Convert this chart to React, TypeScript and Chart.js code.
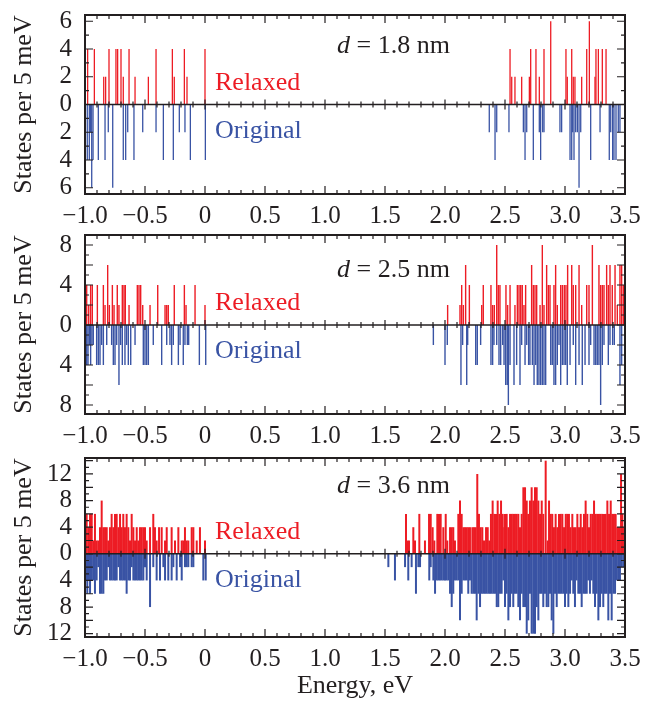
import React, { useEffect, useRef } from 'react';
import { Chart, registerables } from 'chart.js';

Chart.register(...registerables);

const FONT = '"Liberation Serif", "Times New Roman", Times, serif';
const INK = '#231f20';
const RED = 'rgb(237, 28, 36)';
const BLUE = 'rgb(57, 83, 164)';

// ---------------- data ----------------
const seriesNames = ['Relaxed', 'Original'];
const thicknessNm = ['1.8', '2.5', '3.6'];
const energyRange = [-1.0, 3.5];
const xTitle = 'Energy, eV';
const yTitle = 'States per 5 meV';

// [energy (eV), states per 5 meV]
const relaxed18: [number, number][] = [
  [-0.978, 4], [-0.922, 4], [-0.844, 2], [-0.828, 2], [-0.800, 4], [-0.742, 4], [-0.728, 4], [-0.700, 4],
  [-0.681, 2], [-0.633, 4], [-0.583, 2], [-0.472, 2], [-0.408, 4], [-0.272, 4], [-0.256, 2], [-0.172, 4],
  [-0.150, 2], [0.000, 4],
  [2.542, 4], [2.556, 2], [2.583, 2], [2.639, 2], [2.703, 2], [2.714, 4], [2.758, 4], [2.786, 2],
  [2.825, 4], [2.881, 6], [3.008, 4], [3.019, 2], [3.056, 4], [3.069, 2], [3.083, 2], [3.139, 2],
  [3.181, 4], [3.203, 6], [3.250, 2], [3.258, 4], [3.278, 4], [3.311, 4], [3.342, 4], [3.497, 4],
];
const original18: [number, number][] = [
  [-0.981, 4], [-0.964, 4], [-0.953, 2], [-0.944, 6], [-0.933, 4], [-0.889, 4], [-0.833, 4], [-0.806, 2],
  [-0.769, 6], [-0.681, 4], [-0.661, 4], [-0.644, 2], [-0.592, 4], [-0.519, 2], [-0.408, 2], [-0.347, 4],
  [-0.264, 4], [-0.214, 2], [-0.167, 2], [-0.122, 4], [0.003, 4],
  [2.369, 2], [2.417, 4], [2.431, 2], [2.533, 2], [2.653, 2], [2.667, 4], [2.681, 2], [2.736, 4],
  [2.786, 2], [2.797, 4], [2.814, 2], [2.825, 2], [2.958, 2], [2.972, 2], [3.042, 4], [3.056, 4],
  [3.064, 2], [3.075, 4], [3.089, 2], [3.103, 2], [3.117, 6], [3.131, 2], [3.214, 4], [3.292, 2],
  [3.369, 4], [3.381, 2], [3.397, 4], [3.408, 4], [3.425, 4], [3.444, 2], [3.458, 2],
];

const relaxed25: [number, number][] = [
  [-0.986, 4], [-0.969, 2], [-0.953, 4], [-0.939, 4], [-0.897, 4], [-0.847, 4], [-0.833, 2], [-0.811, 6],
  [-0.797, 2], [-0.772, 4], [-0.758, 2], [-0.731, 4], [-0.717, 2], [-0.689, 4], [-0.675, 4], [-0.664, 4],
  [-0.633, 2], [-0.564, 4], [-0.550, 4], [-0.536, 4], [-0.519, 2], [-0.458, 2], [-0.394, 4], [-0.333, 2],
  [-0.319, 2], [-0.306, 2], [-0.256, 4], [-0.172, 4], [-0.158, 2], [-0.083, 4], [0.000, 2],
  [2.022, 2], [2.125, 2], [2.139, 4], [2.153, 2], [2.172, 6], [2.203, 4], [2.306, 2], [2.319, 4],
  [2.383, 4], [2.397, 2], [2.411, 2], [2.431, 8], [2.444, 4], [2.458, 4], [2.508, 4], [2.522, 2],
  [2.542, 4], [2.583, 2], [2.603, 4], [2.617, 4], [2.631, 4], [2.644, 4], [2.658, 2], [2.672, 4],
  [2.722, 6], [2.736, 4], [2.750, 4], [2.764, 4], [2.792, 2], [2.811, 8], [2.825, 2], [2.847, 6],
  [2.861, 4], [2.875, 4], [2.908, 4], [2.922, 6], [2.936, 2], [2.964, 4], [2.978, 4], [2.994, 4],
  [3.008, 4], [3.022, 6], [3.056, 6], [3.069, 4], [3.089, 4], [3.117, 6], [3.139, 2], [3.181, 4],
  [3.200, 4], [3.228, 8], [3.283, 6], [3.297, 4], [3.311, 4], [3.325, 4], [3.347, 6], [3.361, 4],
  [3.375, 6], [3.394, 4], [3.417, 6], [3.436, 2], [3.458, 6], [3.472, 6], [3.486, 4],
];
const original25: [number, number][] = [
  [-0.986, 4], [-0.975, 4], [-0.964, 2], [-0.953, 4], [-0.942, 2], [-0.931, 2], [-0.903, 4], [-0.889, 4],
  [-0.875, 4], [-0.861, 2], [-0.847, 4], [-0.819, 2], [-0.778, 2], [-0.764, 4], [-0.750, 4], [-0.736, 2],
  [-0.717, 6], [-0.703, 2], [-0.689, 4], [-0.667, 4], [-0.653, 2], [-0.639, 4], [-0.619, 4], [-0.583, 2],
  [-0.514, 4], [-0.500, 4], [-0.486, 4], [-0.472, 4], [-0.431, 2], [-0.361, 4], [-0.319, 2], [-0.292, 2],
  [-0.278, 4], [-0.264, 2], [-0.222, 4], [-0.208, 2], [-0.181, 4], [-0.167, 2], [-0.147, 2], [-0.136, 2],
  [-0.047, 4], [0.006, 4],
  [1.903, 2], [2.000, 4], [2.019, 2], [2.133, 6], [2.147, 2], [2.181, 6], [2.189, 2], [2.256, 4],
  [2.269, 4], [2.297, 2], [2.383, 4], [2.397, 4], [2.408, 2], [2.431, 2], [2.450, 4], [2.464, 4],
  [2.481, 2], [2.492, 4], [2.506, 6], [2.519, 6], [2.528, 8], [2.542, 4], [2.575, 6], [2.597, 4],
  [2.625, 6], [2.639, 2], [2.667, 4], [2.681, 2], [2.697, 4], [2.708, 4], [2.728, 4], [2.742, 6],
  [2.756, 4], [2.769, 6], [2.783, 6], [2.797, 6], [2.811, 6], [2.825, 6], [2.839, 6], [2.881, 4],
  [2.894, 4], [2.908, 6], [2.922, 6], [2.936, 4], [2.950, 2], [2.964, 6], [2.978, 4], [2.992, 4],
  [3.006, 4], [3.019, 6], [3.042, 4], [3.069, 2], [3.089, 6], [3.117, 4], [3.144, 6], [3.167, 4],
  [3.200, 4], [3.214, 2], [3.242, 4], [3.256, 4], [3.269, 4], [3.283, 4], [3.297, 8], [3.311, 4],
  [3.325, 2], [3.361, 4], [3.375, 2], [3.397, 2], [3.411, 2], [3.458, 6], [3.472, 4],
];

const relaxed36: [number, number][] = [
  [-0.986, 6], [-0.972, 4], [-0.958, 6], [-0.944, 6], [-0.931, 2], [-0.917, 6], [-0.903, 2], [-0.889, 2],
  [-0.875, 4], [-0.861, 8], [-0.847, 4], [-0.833, 4], [-0.819, 4], [-0.806, 2], [-0.792, 4], [-0.778, 6],
  [-0.764, 4], [-0.750, 6], [-0.736, 6], [-0.722, 4], [-0.708, 6], [-0.694, 4], [-0.681, 6], [-0.667, 4],
  [-0.653, 6], [-0.639, 4], [-0.625, 2], [-0.611, 6], [-0.597, 4], [-0.583, 2], [-0.569, 4], [-0.556, 2],
  [-0.542, 4], [-0.528, 4], [-0.514, 4], [-0.500, 4], [-0.486, 2], [-0.458, 4], [-0.431, 6], [-0.417, 4],
  [-0.403, 2], [-0.383, 4], [-0.361, 4], [-0.333, 2], [-0.319, 4], [-0.278, 4], [-0.250, 2], [-0.222, 4],
  [-0.194, 2], [-0.181, 2], [-0.167, 4], [-0.153, 2], [-0.139, 2], [-0.111, 4], [-0.097, 4], [-0.069, 2],
  [-0.042, 4], [0.000, 2],
  [1.675, 6], [1.686, 2], [1.700, 2], [1.736, 4], [1.750, 2], [1.786, 6], [1.833, 2], [1.867, 6],
  [1.881, 6], [1.897, 4], [1.911, 2], [1.936, 6], [1.950, 6], [1.964, 6], [1.986, 4], [2.006, 6],
  [2.019, 2], [2.042, 4], [2.056, 4], [2.069, 4], [2.083, 2], [2.111, 6], [2.125, 8], [2.139, 6],
  [2.153, 4], [2.167, 4], [2.181, 4], [2.194, 4], [2.208, 4], [2.228, 4], [2.242, 4], [2.256, 4],
  [2.269, 12], [2.283, 6], [2.297, 4], [2.311, 4], [2.325, 2], [2.342, 4], [2.356, 4], [2.369, 2],
  [2.383, 6], [2.397, 8], [2.411, 6], [2.425, 6], [2.439, 8], [2.453, 6], [2.467, 8], [2.481, 6],
  [2.494, 4],
  [2.500, 6], [2.514, 6], [2.528, 4], [2.542, 6], [2.556, 6], [2.569, 6], [2.583, 6], [2.597, 6],
  [2.611, 6], [2.625, 4], [2.639, 6], [2.653, 10], [2.667, 10], [2.681, 8], [2.694, 6], [2.708, 8],
  [2.722, 10], [2.736, 8], [2.750, 10], [2.764, 10], [2.778, 8], [2.792, 6], [2.806, 8], [2.819, 6],
  [2.839, 14], [2.856, 2], [2.867, 8], [2.881, 6], [2.894, 6], [2.908, 4], [2.922, 6], [2.936, 4],
  [2.950, 6], [2.964, 6], [2.978, 6], [2.992, 4], [3.006, 6], [3.019, 6], [3.033, 6], [3.047, 4],
  [3.061, 6], [3.075, 4], [3.089, 4], [3.103, 6], [3.117, 4], [3.131, 6], [3.144, 4], [3.158, 6],
  [3.172, 8], [3.186, 6], [3.200, 4], [3.214, 6], [3.228, 6], [3.242, 8], [3.256, 6], [3.269, 6],
  [3.283, 6], [3.297, 6], [3.311, 6], [3.325, 6], [3.339, 6], [3.353, 8], [3.367, 6], [3.381, 8],
  [3.394, 6], [3.408, 6], [3.422, 6], [3.436, 4], [3.450, 4], [3.467, 12], [3.478, 6], [3.492, 4],
];
const original36: [number, number][] = [
  [-0.992, 4], [-0.981, 6], [-0.969, 4], [-0.958, 6], [-0.944, 4], [-0.931, 4], [-0.917, 6], [-0.903, 4],
  [-0.889, 2], [-0.875, 6], [-0.861, 6], [-0.847, 6], [-0.833, 4], [-0.819, 4], [-0.806, 2], [-0.792, 4],
  [-0.778, 4], [-0.764, 4], [-0.750, 4], [-0.736, 4], [-0.722, 2], [-0.708, 4], [-0.694, 4], [-0.681, 4],
  [-0.667, 4], [-0.653, 6], [-0.639, 4], [-0.625, 4], [-0.611, 2], [-0.597, 4], [-0.583, 4], [-0.569, 4],
  [-0.556, 4], [-0.542, 4], [-0.528, 4], [-0.514, 4], [-0.500, 2], [-0.486, 4], [-0.458, 8], [-0.431, 2],
  [-0.403, 4], [-0.375, 4], [-0.347, 2], [-0.333, 4], [-0.306, 4], [-0.278, 4], [-0.264, 2], [-0.236, 4],
  [-0.208, 2], [-0.194, 4], [-0.167, 2], [-0.153, 2], [-0.139, 2], [-0.111, 2], [-0.097, 2], [-0.014, 4],
  [0.006, 4],
  [1.528, 2], [1.583, 4], [1.667, 2], [1.694, 4], [1.722, 2], [1.758, 6], [1.778, 2], [1.792, 2],
  [1.869, 4], [1.881, 2], [1.903, 4], [1.917, 6], [1.931, 4], [1.944, 4], [1.958, 4], [1.972, 4],
  [1.986, 4], [2.000, 4], [2.014, 4], [2.028, 4], [2.042, 6], [2.056, 8], [2.069, 6], [2.083, 4],
  [2.097, 4], [2.111, 4], [2.125, 10], [2.139, 6], [2.153, 4], [2.167, 4], [2.181, 4], [2.194, 6],
  [2.208, 4], [2.222, 6], [2.236, 6], [2.250, 6], [2.264, 10], [2.278, 6], [2.292, 8], [2.306, 6],
  [2.319, 6], [2.333, 6], [2.347, 6], [2.361, 6], [2.375, 6], [2.389, 6], [2.403, 6], [2.417, 6],
  [2.431, 8], [2.444, 8], [2.458, 6], [2.472, 6], [2.486, 4],
  [2.500, 8], [2.514, 6], [2.528, 10], [2.542, 8], [2.556, 6], [2.569, 8], [2.583, 6], [2.597, 6],
  [2.611, 8], [2.625, 10], [2.639, 6], [2.653, 8], [2.667, 8], [2.681, 12], [2.694, 10], [2.708, 6],
  [2.722, 12], [2.736, 12], [2.750, 12], [2.764, 8], [2.778, 10], [2.792, 6], [2.806, 6], [2.819, 8],
  [2.833, 6], [2.847, 8], [2.861, 8], [2.875, 6], [2.889, 10], [2.903, 12], [2.917, 6], [2.931, 8],
  [2.944, 6], [2.958, 6], [2.972, 6], [2.986, 6], [3.000, 8], [3.014, 6], [3.028, 8], [3.042, 6],
  [3.056, 4], [3.069, 6], [3.083, 8], [3.097, 4], [3.111, 6], [3.125, 6], [3.139, 8], [3.153, 6],
  [3.167, 6], [3.181, 6], [3.194, 4], [3.208, 6], [3.222, 4], [3.236, 6], [3.250, 8], [3.264, 6],
  [3.278, 10], [3.292, 8], [3.306, 6], [3.319, 8], [3.333, 6], [3.347, 6], [3.361, 10], [3.375, 6],
  [3.389, 10], [3.403, 6], [3.417, 6], [3.431, 4], [3.444, 4], [3.458, 4], [3.472, 2], [3.486, 2],
];

// y-axis ranges and label step for each panel
const yRange18 = [-6.45, 6.45];
const yRange25 = [-8.9, 9.0];
const yRange36 = [-12.5, 14.4];
const yLabelSteps = [2, 4, 4];

// ---------------- layout ----------------
type PanelCfg = {
  relaxed: [number, number][];
  original: [number, number][];
  yRange: number[];
  labelStep: number;
  d: string;
  top: number;
  height: number;
  padTop: number;
  xAxisH: number;
  showXTitle: boolean;
  barW: number;
  dOffset: number;
};

const panels: PanelCfg[] = [
  { relaxed: relaxed18, original: original18, yRange: yRange18, labelStep: yLabelSteps[0], d: thicknessNm[0],
    top: 0, height: 228, padTop: 15, xAxisH: 34, showXTitle: false, barW: 1.3, dOffset: 38 },
  { relaxed: relaxed25, original: original25, yRange: yRange25, labelStep: yLabelSteps[1], d: thicknessNm[1],
    top: 228, height: 222, padTop: 7, xAxisH: 36, showXTitle: false, barW: 1.4, dOffset: 42 },
  { relaxed: relaxed36, original: original36, yRange: yRange36, labelStep: yLabelSteps[2], d: thicknessNm[2],
    top: 450, height: 252, padTop: 8, xAxisH: 65, showXTitle: true, barW: 2.0, dOffset: 35 },
];

const near = (v: number, step: number) => Math.abs(v / step - Math.round(v / step)) < 1e-6;

const fmtX = (v: number) => {
  if (!near(v, 0.5)) return '';
  if (Math.abs(v) < 1e-9) return '0';
  return (v < 0 ? '\u2212' : '') + Math.abs(v).toFixed(1);
};

const frameTicks = {
  id: 'frameTicks',
  afterDatasetsDraw(chart: any, _args: any, opts: any) {
    const { ctx, chartArea: a, scales } = chart;
    const x = scales.x;
    const y = scales.y;
    const y0 = y.getPixelForValue(0);
    ctx.save();
    ctx.strokeStyle = INK;
    ctx.lineWidth = 1.5;
    ctx.beginPath();
    ctx.moveTo(a.left, y0);
    ctx.lineTo(a.right, y0);
    ctx.stroke();

    ctx.lineWidth = 1.2;
    ctx.beginPath();
    for (const t of x.ticks) {
      const px = x.getPixelForValue(t.value);
      const major = near(t.value, 0.5);
      const L = major ? 8 : 4;
      const Z = major ? 5 : 3;
      ctx.moveTo(px, a.bottom);
      ctx.lineTo(px, a.bottom - L);
      ctx.moveTo(px, a.top);
      ctx.lineTo(px, a.top + L);
      ctx.moveTo(px, y0 - Z);
      ctx.lineTo(px, y0 + Z);
    }
    for (const t of y.ticks) {
      const py = y.getPixelForValue(t.value);
      const L = near(t.value, 2) ? 8 : 4;
      ctx.moveTo(a.left, py);
      ctx.lineTo(a.left + L, py);
      ctx.moveTo(a.right, py);
      ctx.lineTo(a.right - L, py);
    }
    ctx.stroke();

    ctx.lineWidth = 2;
    ctx.strokeRect(a.left, a.top, a.right - a.left, a.bottom - a.top);

    ctx.textAlign = 'left';
    ctx.textBaseline = 'alphabetic';
    ctx.font = `26px ${FONT}`;
    ctx.fillStyle = RED;
    ctx.fillText(seriesNames[0], a.left + 130, y0 - 15);
    ctx.fillStyle = BLUE;
    ctx.fillText(seriesNames[1], a.left + 130, y0 + 33);

    ctx.fillStyle = INK;
    const dx = a.left + 252;
    const dy = a.top + opts.dOffset;
    ctx.font = `italic 26px ${FONT}`;
    ctx.fillText('d', dx, dy);
    const w = ctx.measureText('d').width;
    ctx.font = `26px ${FONT}`;
    ctx.fillText(` = ${opts.d} nm`, dx + w, dy);
    ctx.restore();
  },
};

function zeroPad(s: any) {
  s.paddingLeft = 0;
  s.paddingRight = 0;
  s.paddingTop = 0;
  s.paddingBottom = 0;
}

function buildConfig(p: PanelCfg): any {
  const common = { borderWidth: 0, inflateAmount: 0, barThickness: p.barW, categoryPercentage: 1, barPercentage: 1 };
  return {
    type: 'bar',
    data: {
      datasets: [
        { label: seriesNames[0], data: p.relaxed.map(([e, n]) => ({ x: e, y: n })), backgroundColor: RED, ...common },
        { label: seriesNames[1], data: p.original.map(([e, n]) => ({ x: e, y: -n })), backgroundColor: BLUE, ...common },
      ],
    },
    options: {
      responsive: false,
      animation: false,
      devicePixelRatio: 1,
      events: [],
      layout: { padding: { left: 0, right: 30, top: p.padTop, bottom: 0 } },
      plugins: {
        legend: { display: false },
        tooltip: { enabled: false },
        frameTicks: { d: p.d, dOffset: p.dOffset },
      },
      scales: {
        x: {
          type: 'linear',
          stacked: true,
          min: energyRange[0],
          max: energyRange[1],
          offset: false,
          grid: { display: false, drawTicks: false },
          border: { display: false },
          ticks: {
            stepSize: 0.1,
            autoSkip: false,
            maxRotation: 0,
            minRotation: 0,
            maxTicksLimit: 1000,
            includeBounds: true,
            padding: 7,
            color: INK,
            font: { family: FONT, size: 25 },
            callback: (v: any) => fmtX(Number(v)),
          },
          title: {
            display: p.showXTitle,
            text: xTitle,
            color: INK,
            font: { family: FONT, size: 26 },
            padding: { top: 0, bottom: 0 },
          },
          afterFit: (s: any) => {
            s.height = p.xAxisH;
            zeroPad(s);
          },
        },
        y: {
          type: 'linear',
          stacked: true,
          min: p.yRange[0],
          max: p.yRange[1],
          grid: { display: false, drawTicks: false },
          border: { display: false },
          ticks: {
            stepSize: 1,
            includeBounds: false,
            autoSkip: false,
            maxTicksLimit: 1000,
            padding: 13,
            color: INK,
            font: { family: FONT, size: 25 },
            callback: (v: any) => (near(Number(v), p.labelStep) ? String(Math.abs(Math.round(Number(v)))) : ''),
          },
          title: {
            display: true,
            text: yTitle,
            color: INK,
            font: { family: FONT, size: 26 },
            padding: { top: 9, bottom: 0 },
          },
          afterFit: (s: any) => {
            s.width = 85;
            zeroPad(s);
          },
        },
      },
    },
    plugins: [frameTicks],
  };
}

function PanelChart({ p }: { p: PanelCfg }) {
  const ref = useRef<HTMLCanvasElement | null>(null);
  useEffect(() => {
    if (!ref.current) return;
    const chart = new Chart(ref.current, buildConfig(p));
    return () => chart.destroy();
  }, [p]);
  return (
    <canvas
      ref={ref}
      width={655}
      height={p.height}
      style={{ position: 'absolute', left: 0, top: p.top, display: 'block' }}
    />
  );
}

export default function App() {
  return (
    <div style={{ position: 'absolute', left: 0, top: 0, width: 655, height: 702, background: '#ffffff' }}>
      {panels.map((p, i) => (
        <PanelChart key={i} p={p} />
      ))}
    </div>
  );
}
